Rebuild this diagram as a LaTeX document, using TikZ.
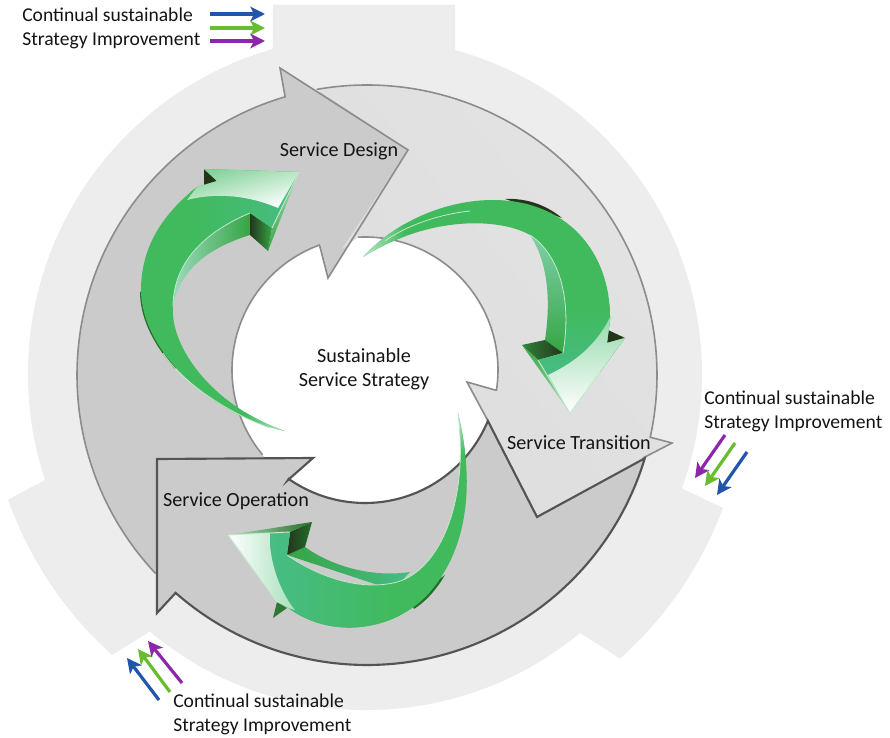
\documentclass[tikz,border=0pt]{standalone}
\usepackage{fontspec}
\setmainfont{Carlito}
\usetikzlibrary{arrows.meta,calc}
\definecolor{band}{HTML}{EDEDED}
\definecolor{ringdark}{HTML}{CBCBCB}
\definecolor{ringlight}{HTML}{DDDDDD}
\definecolor{edgegray}{HTML}{8C8C8C}
\definecolor{edgedark}{HTML}{545454}
\definecolor{gface}{HTML}{40BA5C}
\definecolor{gmid}{HTML}{35A544}
\definecolor{gdeep}{HTML}{24702A}
\definecolor{gblack}{HTML}{24351C}
\definecolor{gteal}{HTML}{48BC86}
\definecolor{gpale}{HTML}{A8E0BC}
\definecolor{ablue}{HTML}{2254AC}
\definecolor{agreen}{HTML}{68BC30}
\definecolor{apurple}{HTML}{8E26AC}
\tikzset{
  caption text/.style={font=\fontsize{14.7}{18}\selectfont,text=black!92,inner sep=0pt,align=left},
  labc/.style={font=\fontsize{15.1}{18}\selectfont,text=black!92,inner sep=0pt,align=center},
  flow/.style={line width=2.4pt,-{Stealth[length=11pt,width=11pt,inset=2.8pt]}},
  edgeL/.style={draw=edgegray,line width=1.2pt,line join=miter},
  edgeD/.style={draw=edgedark,line width=1.6pt,line join=miter},
  gloss/.style={white!68!gface,line width=.6pt}
}
\begin{document}
\begin{tikzpicture}[x=.75pt,y=-.75pt]
\useasboundingbox (0,0) rectangle (890,738);
\coordinate (co) at (367,375);
\coordinate (ci) at (365,370);
\coordinate (cb) at (366,374);
% light outer band with three tabs
\fill[band] (273,5) -- (455,5) -- (455,50)
  -- ([shift={(-73.9:336)}]cb) arc[start angle=-73.9,end angle=19.9,x radius=336,y radius=336]
  -- (723,508) arc[start angle=20.5,end angle=48.2,x radius=381,y radius=381]
  -- (580,633) arc[start angle=50.4,end angle=130,x radius=336,y radius=336]
  -- (112,655) arc[start angle=132,end angle=160.4,x radius=381,y radius=381]
  -- (45,480) arc[start angle=161.7,end angle=254,x radius=338,y radius=338] -- cycle;
% base ring and hole
\fill[ringdark] (co) circle[radius=287];
\fill[white] (ci) circle[radius=133];
% Service Design section
\def\designline{([shift={(136.8:290)}]co) arc[start angle=136.8,end angle=253.6,x radius=290,y radius=290]
  -- (280,68) -- (408,150) -- (328,278) -- (320,247)
  -- ([shift={(-110.1:133)}]ci) arc[start angle=-110.1,end angle=-219.6,x radius=133,y radius=133]}
\fill[ringdark] \designline -- (157,459) -- cycle;
% Service Transition section
\def\transA{([shift={(260:290)}]co) arc[start angle=260,end angle=372.4,x radius=290,y radius=290] -- (672,443) -- (643,458)}
\def\transB{(488,421) -- (467,382) -- (495,390)
  -- ([shift={(8.7:133)}]ci) arc[start angle=8.7,end angle=-93,x radius=133,y radius=133]}
\shade[top color=ringlight!82!white,bottom color=ringlight,shading angle=-50]
  ([shift={(260:290)}]co) arc[start angle=260,end angle=372.4,x radius=290,y radius=290] -- (672,443) -- (537,517) -- (488,421) -- (467,382) -- (495,390)
  -- ([shift={(8.7:133)}]ci) arc[start angle=8.7,end angle=-93,x radius=133,y radius=133]
  -- (342,249) -- (408,150) -- cycle;
\draw[edgeL] \designline;
\draw[edgeL] \transA;
\draw[edgeL] \transB;
% Service Operation section
\def\opline{([shift={(16.7:290)}]co) arc[start angle=16.7,end angle=131.3,x radius=290,y radius=290]
  -- (157,613) -- (157,459) -- (313,458) -- (288,480)
  -- ([shift={(125:133)}]ci) arc[start angle=125,end angle=22.5,x radius=133,y radius=133]
  -- (537,517) -- cycle}
\fill[ringdark] \opline;
\draw[edgeD] \opline;
% ---------- green arrow 1 (Service Design)
\def\faceA{(285,431) .. controls (210,415) and (141,350) .. (141,290)
  .. controls (141,245) and (165,212) .. (197,187) -- (217,181) -- (204,169) -- (299,172) -- (272,228) -- (250,213)
  .. controls (205,232) and (173,262) .. (173,307)
  .. controls (170,345) and (210,405) .. (285,431) -- cycle}
\fill[gdeep,shift={(-1,1.2)}] (141,290) .. controls (141,315) and (152,340) .. (176,368) -- (185,362) -- (150,300) -- cycle;
\fill[gblack] (204,169) -- (217,181) -- (204,186) -- cycle;
\shade[left color=gteal!55!white,middle color=gteal,right color=gmid]
  (250,213) .. controls (205,232) and (173,262) .. (173,307)
  .. controls (178,280) and (195,252) .. (250,235) -- cycle;
\shade[left color=gblack,right color=gmid] (250,213) -- (272,228) -- (268,251) -- (250,235) -- cycle;
\shade[top color=gpale,bottom color=gmid] (272,228) -- (299,172) -- (268,251) -- cycle;
\fill[gface] \faceA;
\begin{scope}
  \clip \faceA;
  \shade[left color=gface,right color=gteal] (190,190) rectangle (300,240);
  \shade[left color=gface!40!gpale,right color=white,shading angle=15]
    (204,169) -- (299,172) -- (278,208) .. controls (250,196) and (218,192) .. (187,200) -- (197,187) -- (217,181) -- cycle;
  \shade[left color=gface,right color=white!30!gpale] (245,395) rectangle (287,433);
\end{scope}
\draw[white!70!gface,line width=.7pt] (299,172) -- (272,228);
\draw[gloss] (250,213) .. controls (205,232) and (173,262) .. (173,307);
\draw[gloss] (163,353) .. controls (180,380) and (225,412) .. (270,428);
% ---------- green arrow 2 (Service Transition)
\def\faceB{(363,257) .. controls (395,222) and (445,200) .. (493,200)
  .. controls (565,200) and (611,250) .. (610,320) -- (607,343) -- (625,338) -- (570,413) -- (538,360) -- (563,353)
  .. controls (572,300) and (560,255) .. (530,235)
  .. controls (500,218) and (430,215) .. (363,257) -- cycle}
\fill[gblack] (505,199) .. controls (525,198) and (545,204) .. (562,218) -- (545,212) -- cycle;
\fill[gblack] (608,330) -- (625,338) -- (607,343) -- cycle;
\shade[top color=white!30!gteal,middle color=gteal,bottom color=gmid]
  (530,235) .. controls (560,255) and (572,300) .. (563,353) -- (545,340)
  .. controls (551,300) and (548,262) .. (530,235) -- cycle;
\shade[left color=gmid!70!gblack,right color=gblack] (522,345) -- (545,340) -- (563,353) -- (538,360) -- cycle;
\shade[top color=gmid,bottom color=gpale] (522,345) -- (538,360) -- (570,413) -- cycle;
\fill[gface] \faceB;
\begin{scope}
  \clip \faceB;
  \shade[top color=gface,bottom color=gteal] (530,305) rectangle (625,380);
  \shade[top color=gpale!80!gface,bottom color=white]
    (612,313) .. controls (600,340) and (580,360) .. (548,375) -- (570,413) -- (625,338) -- (612,338) -- cycle;
  \shade[left color=white!30!gpale,right color=gface] (360,225) rectangle (405,262);
\end{scope}
\draw[white!70!gface,line width=.7pt] (538,360) -- (570,413) -- (600,372);
\draw[gloss] (563,353) .. controls (572,300) and (560,255) .. (530,235);
\draw[gloss] (385,241) .. controls (405,226) and (440,214) .. (470,211);
% ---------- green arrow 3 (Service Operation)
\def\faceC{(458,413) .. controls (474,480) and (470,545) .. (430,592)
  .. controls (395,632) and (330,640) .. (287,607) -- (277,602) -- (228,535) -- (290,532) -- (287,555)
  .. controls (320,578) and (360,590) .. (393,583)
  .. controls (435,575) and (470,510) .. (458,413) -- cycle}
\fill[gdeep] (445,575) .. controls (438,587) and (428,600) .. (414,609) -- (410,600) -- cycle;
\fill[gmid!60!gblack] (277,602) -- (287,608) -- (273,618) -- cycle;
\shade[left color=gmid,middle color=gmid,right color=gteal]
  (287,555) -- (305,547) .. controls (330,565) and (370,578) .. (410,572) -- (393,590) -- cycle;
\shade[left color=gblack,right color=gdeep] (290,532) -- (312,522) -- (305,547) -- (287,555) -- cycle;
\shade[left color=gpale,right color=gdeep] (228,535) -- (312,522) -- (290,532) -- cycle;
\fill[gface] \faceC;
\begin{scope}
  \clip \faceC;
  \shade[left color=gteal,middle color=gteal,right color=gface] (265,525) rectangle (400,640);
  \shade[left color=white,right color=gpale]
    (228,535) -- (270,532) .. controls (268,555) and (278,590) .. (295,610) -- (277,605) -- cycle;
  \shade[top color=white!30!gpale,bottom color=gface] (450,410) rectangle (480,455);
\end{scope}
\draw[white!70!gface,line width=.7pt] (228,535) -- (290,532);
\draw[white!70!gface,line width=.7pt] (228,535) -- (277,602);
\draw[gloss] (287,555) .. controls (320,578) and (360,590) .. (393,583)
  .. controls (435,575) and (470,510) .. (458,413);
% ---------- small triple arrows
\draw[flow,ablue] (210,14) -- (265,14);
\draw[flow,agreen] (210,28) -- (265,28);
\draw[flow,apurple] (210,41) -- (265,41);
\draw[flow,apurple] (725,435) -- (695,478);
\draw[flow,agreen] (735,443) -- (705,486);
\draw[flow,ablue] (747,452) -- (717,495);
\draw[flow,ablue] (159,700) -- (127,658);
\draw[flow,agreen] (170,692) -- (138,649);
\draw[flow,apurple] (182,683) -- (148,641);
% ---------- labels
\node[caption text,anchor=west] (capA) at (22,28) {Continual sustainable\\Strategy Improvement};
\node[caption text,anchor=west] (capB) at (704,411) {Continual sustainable\\Strategy Improvement};
\node[caption text,anchor=west] (capC) at (173,714) {Continual sustainable\\Strategy Improvement};
\node[labc] (design) at (339,151) {Service Design};
\node[labc] (transition) at (579,443) {Service Transition};
\node[labc] (operation) at (236,501) {Service Operation};
\node[labc] (core) at (364,369) {Sustainable\\Service Strategy};
\end{tikzpicture}
\end{document}
